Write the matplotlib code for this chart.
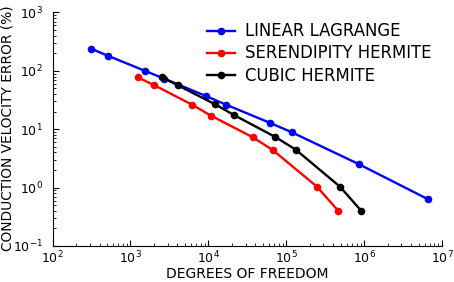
import numpy as np
import matplotlib
matplotlib.use('Agg')
import matplotlib.pyplot as plt

## data
lin_dof = [311, 510, 1549, 2716, 9230, 16830, 62350, 117300, 857000, 6.65e6]
lin_err = [240, 182, 99.5, 73.5, 37.2, 26.4, 12.8, 8.89, 2.52, 0.63]

ser_dof = [1237, 2021, 6155, 10790, 37060, 66840, 247700, 465300]
ser_err = [77.7, 56.7, 26.4, 17.1, 7.3, 4.42, 1.04, 0.40]

cub_dof = [2516, 4036, 12160, 21490, 72270, 132100, 488900, 918000]
cub_err = [77.7, 56.7, 26.8, 17.4, 7.38, 4.48, 1.04, 0.40]

labels = ['LINEAR LAGRANGE', 'SERENDIPITY HERMITE', 'CUBIC HERMITE']

fig = plt.figure(figsize=(4.54, 2.82), dpi=100)
ax = fig.add_axes([0.1159, 0.1277, 0.8577, 0.828])

kw = dict(marker='o', markersize=5.5, linewidth=1.7, markeredgewidth=0)
ax.plot(lin_dof, lin_err, color='#0000ff', label=labels[0], **kw)
ax.plot(ser_dof, ser_err, color='#ff0000', label=labels[1], **kw)
ax.plot(cub_dof, cub_err, color='black', label=labels[2], **kw)

ax.set_xscale('log')
ax.set_yscale('log')
ax.set_xlim(1e2, 1e7)
ax.set_ylim(1e-1, 1e3)

ax.spines['top'].set_visible(False)
ax.spines['right'].set_visible(False)
ax.tick_params(which='both', direction='in', top=False, right=False, labelsize=9)
ax.tick_params(which='major', length=4)
ax.tick_params(which='minor', length=2)
ax.tick_params(axis='x', pad=3)
ax.tick_params(axis='y', pad=7)

ax.set_xlabel('DEGREES OF FREEDOM', fontsize=10)
ax.set_ylabel('CONDUCTION VELOCITY ERROR (%)', fontsize=9.9)
ax.xaxis.set_label_coords(0.5, -0.092)
ax.yaxis.set_label_coords(-0.097, 0.505)

ax.legend(loc='upper left', bbox_to_anchor=(0.3957, 0.958), frameon=False,
          fontsize=11.9, handlelength=1.7, handletextpad=0.6,
          labelspacing=0.25, borderpad=0, borderaxespad=0, numpoints=1)

fig.savefig('out.png', dpi=100)
